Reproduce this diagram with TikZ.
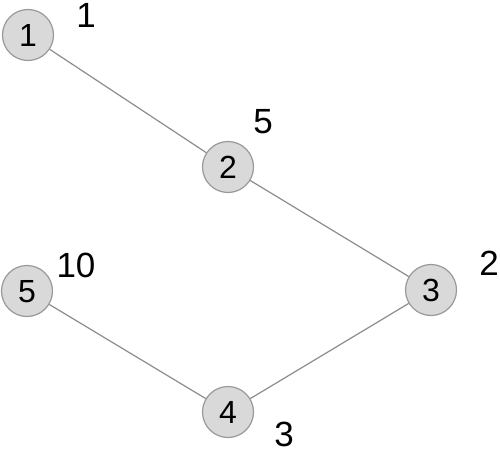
\documentclass[tikz,border=0pt]{standalone}
\usepackage{fontspec}
\setmainfont{Liberation Sans}
\begin{document}
\begin{tikzpicture}[x=1pt,y=-1pt,
  vtx/.style={circle,draw=black!40,fill=black!15,line width=1.2pt,minimum size=51pt,inner sep=0pt,text depth=0pt,font=\fontsize{32}{32}\selectfont},
  wlabel/.style={font=\fontsize{35}{35}\selectfont,inner sep=0pt,text depth=0pt},
  edge/.style={draw=black!45,line width=1.2pt}]
\useasboundingbox (0,0) rectangle (500,452);
\node[vtx] (n1) at (28,35) {1};
\node[vtx] (n2) at (228,167) {2};
\node[vtx] (n3) at (431,290) {3};
\node[vtx] (n4) at (228,412) {4};
\node[vtx] (n5) at (27,291) {5};
\node[wlabel] (w1) at (86,15) {1};
\node[wlabel] (w2) at (263,121) {5};
\node[wlabel] (w3) at (489,263) {2};
\node[wlabel] (w5) at (76,265) {10};
\node[wlabel] (w4) at (284,434) {3};
\draw[edge] (n1) -- (n2);
\draw[edge] (n2) -- (n3);
\draw[edge] (n3) -- (n4);
\draw[edge] (n4) -- (n5);
\end{tikzpicture}
\end{document}
